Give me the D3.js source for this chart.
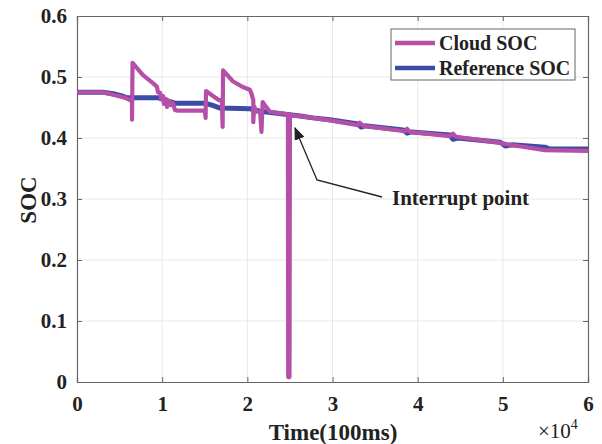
<!doctype html>
<html>
<head>
<meta charset="utf-8">
<title>SOC</title>
<script src="https://cdn.jsdelivr.net/npm/d3@7"></script>
<style>
  body { margin: 0; background: #fff; }
  text { font-family: "Liberation Serif", "Times New Roman", serif; font-weight: bold; fill: #222; }
</style>
</head>
<body>
<script>

// DATA (time in units of 1e4 x 100ms)
var cloudT = [0, 0.305, 0.446, 0.564, 0.622, 0.646, 0.646, 0.652, 0.775, 0.892, 0.939, 0.951, 0.975, 0.986, 1.01, 1.02, 1.045, 1.057, 1.08, 1.10, 1.127, 1.15, 1.174,
  1.50, 1.51, 1.515, 1.585, 1.667, 1.70, 1.71, 1.715, 1.83, 1.94, 2.03, 2.05, 2.07, 2.07, 2.08, 2.11, 2.15, 2.166, 2.18, 2.22, 2.266, 2.36, 2.477,
  2.48, 2.495, 2.50, 2.77, 3.006, 3.30, 3.32, 3.36, 3.85, 3.875, 3.91, 4.38, 4.415, 4.45, 4.97, 5.08, 5.495, 6.0];
var cloudSOC = [0.475, 0.475, 0.470, 0.466, 0.462, 0.461, 0.430, 0.523, 0.503, 0.490, 0.484, 0.475, 0.474, 0.464, 0.469, 0.456, 0.464, 0.451, 0.461, 0.454, 0.457, 0.446, 0.445,
  0.445, 0.433, 0.477, 0.470, 0.462, 0.462, 0.418, 0.511, 0.493, 0.484, 0.479, 0.472, 0.462, 0.426, 0.452, 0.443, 0.443, 0.410, 0.459, 0.451, 0.443, 0.441, 0.439,
  0.008, 0.008, 0.438, 0.433, 0.428, 0.421, 0.425, 0.420, 0.411, 0.415, 0.410, 0.403, 0.407, 0.402, 0.392, 0.389, 0.380, 0.379];

var refT = [0, 0.305, 0.446, 0.528, 0.587, 0.951, 1.033, 1.15, 1.50, 1.585, 1.68, 2.03, 2.15, 2.325, 2.62, 2.77, 2.97, 3.30, 3.335, 3.38, 3.83, 3.875, 3.93,
  4.38, 4.415, 4.47, 4.97, 5.03, 5.11, 5.495, 5.55, 6.0];
var refSOC = [0.475, 0.475, 0.472, 0.469, 0.466, 0.466, 0.462, 0.457, 0.457, 0.454, 0.449, 0.448, 0.444, 0.441, 0.436, 0.433, 0.430, 0.423, 0.418, 0.420, 0.413, 0.408, 0.410,
  0.405, 0.398, 0.400, 0.393, 0.387, 0.389, 0.385, 0.382, 0.382];

var xTicks = [0, 1, 2, 3, 4, 5, 6];
var yTicks = [0, 0.1, 0.2, 0.3, 0.4, 0.5, 0.6];
var seriesNames = ["Cloud SOC", "Reference SOC"];
var seriesColors = ["#b54fa8", "#3a4ca6"];

var w = 602, h = 444;
var mLeft = 77, mRight = 588, mTop = 16, mBottom = 382;

var svg = d3.select("body").append("svg").attr("width", w).attr("height", h);

var x = d3.scaleLinear().domain([0, 6]).range([mLeft, mRight]);
var y = d3.scaleLinear().domain([0, 0.6]).range([mBottom, mTop]);

// GRID
svg.append("g").selectAll("line").data(xTicks.slice(1, -1)).enter().append("line")
  .attr("x1", function(d){ return x(d); }).attr("x2", function(d){ return x(d); })
  .attr("y1", mTop).attr("y2", mBottom)
  .attr("stroke", "#e8e8e8").attr("stroke-width", 1);
svg.append("g").selectAll("line").data(yTicks.slice(1, -1)).enter().append("line")
  .attr("y1", function(d){ return y(d); }).attr("y2", function(d){ return y(d); })
  .attr("x1", mLeft).attr("x2", mRight)
  .attr("stroke", "#e8e8e8").attr("stroke-width", 1);

// AXES
svg.append("g").attr("transform", "translate(0," + mBottom + ")")
  .call(d3.axisBottom(x).tickValues(xTicks).tickSize(-5).tickPadding(14).tickFormat(d3.format("d")));
svg.append("g").attr("transform", "translate(" + mLeft + ",0)")
  .call(d3.axisLeft(y).tickValues(yTicks).tickSize(-5).tickPadding(10).tickFormat(function(d){ return d === 0 ? "0" : d3.format(".1f")(d); }));
svg.append("g").attr("transform", "translate(0," + mTop + ")")
  .call(d3.axisTop(x).tickValues(xTicks).tickSize(-5).tickFormat(""));
svg.append("g").attr("transform", "translate(" + mRight + ",0)")
  .call(d3.axisRight(y).tickValues(yTicks).tickSize(-5).tickFormat(""));

svg.selectAll(".domain").attr("stroke", "#666").attr("stroke-width", 1.2);
svg.selectAll(".tick line").attr("stroke", "#666");
svg.selectAll(".tick text").style("font-size", "21px").attr("fill", "#222");

// LINES
var line = d3.line().x(function(d){ return x(d[0]); }).y(function(d){ return y(d[1]); });
var refData = d3.zip(refT, refSOC);
var cloudData = d3.zip(cloudT, cloudSOC);

svg.append("path").datum(refData).attr("d", line)
  .attr("fill", "none").attr("stroke", seriesColors[1]).attr("stroke-width", 5).attr("stroke-linejoin", "round");
svg.append("path").datum(cloudData).attr("d", line)
  .attr("fill", "none").attr("stroke", seriesColors[0]).attr("stroke-width", 4.2).attr("stroke-linejoin", "round");

// LABELS
svg.append("text").text("Time(100ms)").attr("x", 333).attr("y", 440)
  .attr("text-anchor", "middle").style("font-size", "23px");
var mult = svg.append("text").attr("x", 538).attr("y", 438).style("font-size", "21px").style("font-weight", "normal");
mult.append("tspan").text("\u00d710");
mult.append("tspan").text("4").attr("dy", -9).style("font-size", "14px");
svg.append("text").text("SOC").attr("transform", "translate(36,200) rotate(-90)")
  .attr("text-anchor", "middle").style("font-size", "23px");

// ANNOTATION
svg.append("defs").append("marker").attr("id", "arr")
  .attr("viewBox", "0 0 10 10").attr("refX", 9).attr("refY", 5)
  .attr("markerWidth", 10).attr("markerHeight", 10).attr("orient", "auto")
  .append("path").attr("d", "M0,1 L10,5 L0,9 Z").attr("fill", "#222");
svg.append("path").attr("d", "M382,197 L317,180 L295,128")
  .attr("fill", "none").attr("stroke", "#222").attr("stroke-width", 1.3).attr("marker-end", "url(#arr)");
svg.append("text").text("Interrupt point").attr("x", 392).attr("y", 205).style("font-size", "21px");

// LEGEND
var lg = svg.append("g");
lg.append("rect").attr("x", 391).attr("y", 29).attr("width", 184).attr("height", 51)
  .attr("fill", "#fff").attr("stroke", "#666").attr("stroke-width", 1);
seriesNames.forEach(function(n, i){
  var yy = 43 + i * 25;
  lg.append("line").attr("x1", 395).attr("x2", 435).attr("y1", yy).attr("y2", yy)
    .attr("stroke", seriesColors[i]).attr("stroke-width", 4.5);
  lg.append("text").text(n).attr("x", 439).attr("y", yy + 7).style("font-size", "20px");
});

</script>
</body>
</html>
